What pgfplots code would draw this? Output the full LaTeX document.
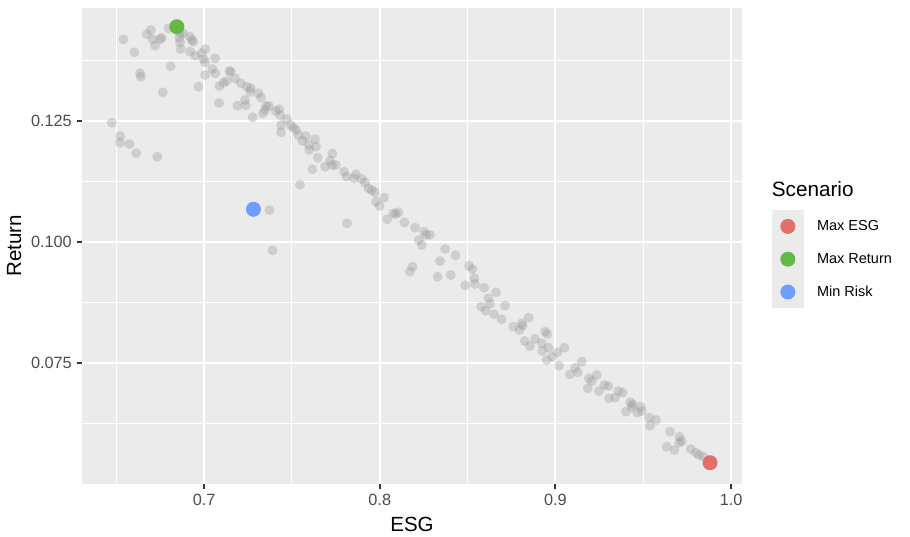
\documentclass[border=0pt]{standalone}
\usepackage{pgfplots}
\pgfplotsset{compat=1.18}
\usepackage{fontspec}
\setmainfont{Liberation Sans}
\definecolor{panel}{HTML}{EBEBEB}
\definecolor{ticklab}{HTML}{4D4D4D}
\definecolor{tickln}{HTML}{333333}
\definecolor{ptgrey}{HTML}{999999}
\definecolor{cred}{HTML}{E1706A}
\definecolor{cgreen}{HTML}{62B946}
\definecolor{cblue}{HTML}{6E9CFF}
\begin{document}
\begin{tikzpicture}
\path[use as bounding box] (-82pt,-53pt) rectangle (828pt,484pt);
\begin{axis}[
  name=ax,
  anchor=south west, at={(0pt,0pt)},
  scale only axis, width=660pt, height=476pt,
  xmin=0.6305, xmax=1.0062, ymin=0.05, ymax=0.14835,
  axis background/.style={fill=panel},
  axis line style={draw=none},
  clip=false,
  tick pos=left, tick align=outside,
  major tick length=5pt, minor tick length=0pt,
  major tick style={draw=tickln, line width=1.9pt},
  xtick={0.7,0.8,0.9,1.0}, ytick={0.075,0.1,0.125},
  minor xtick={0.65,0.75,0.85,0.95}, minor ytick={0.0625,0.0875,0.1125,0.1375},
  grid=both,
  major grid style={white, line width=2pt},
  minor grid style={white, line width=1.1pt},
  /pgf/number format/assume math mode=true,
  xticklabel={\pgfmathprintnumber[fixed,fixed zerofill,precision=1]{\tick}},
  yticklabel={\pgfmathprintnumber[fixed,fixed zerofill,precision=3]{\tick}},
  xticklabel style={font=\fontsize{16.3}{19}\selectfont, text=ticklab, inner sep=0pt, anchor=north},
  yticklabel style={font=\fontsize{16.3}{19}\selectfont, text=ticklab, inner sep=0pt, anchor=east},
  xticklabel shift=5.3pt, yticklabel shift=5pt,
  xlabel={ESG}, ylabel={Return},
  xlabel style={font=\fontsize{20.5}{24}\selectfont, inner sep=0pt, anchor=north, at={(axis description cs:0.5,0)}, yshift=-32.7pt},
  ylabel style={font=\fontsize{20.5}{24}\selectfont, inner sep=0pt, anchor=center, rotate=0, at={(axis description cs:-0.1027,0.5)}},
  legend style={at={(axis description cs:1.045,0.5756)}, anchor=north west, draw=none, fill=none,
    inner sep=0pt, outer sep=0pt, row sep=0pt, column sep=11pt,
    font=\fontsize{14.5}{17}\selectfont, cells={anchor=west, inner sep=0pt}},
  legend cell align=left,
  legend image code/.code={\fill[panel, draw=none] (0pt,-16.4pt) rectangle (32.3pt,16.4pt); \fill[#1, draw=none] (16.15pt,0pt) circle (7.5pt);},
]
\addplot[only marks, forget plot, color=ptgrey, mark=*, mark size=5pt, mark options={fill=ptgrey, draw opacity=0, fill opacity=0.35}] coordinates {
(0.6475,0.12465) (0.6522,0.1219) (0.6522,0.12052) (0.6575,0.12025) (0.6613,0.11833) (0.6734,0.11762)
(0.6541,0.14188) (0.6674,0.14291) (0.6697,0.14380) (0.6708,0.14188) (0.6750,0.14188) (0.6759,0.14221)
(0.6721,0.14056) (0.6603,0.13919) (0.6797,0.14415) (0.6863,0.14312) (0.6882,0.14312) (0.6859,0.14221)
(0.6863,0.14126) (0.6867,0.13988) (0.6920,0.14242) (0.6939,0.14138) (0.6930,0.14174) (0.6920,0.13932)
(0.6949,0.13849) (0.6987,0.13899) (0.7006,0.13988) (0.6996,0.13781) (0.7006,0.13713) (0.7063,0.13795)
(0.6810,0.13630) (0.6636,0.13486) (0.6640,0.13415) (0.6765,0.13093) (0.6968,0.13209) (0.7006,0.13450)
(0.7047,0.13574) (0.7063,0.13486) (0.7087,0.13223) (0.7110,0.13291) (0.7129,0.13326) (0.7144,0.13533)
(0.7152,0.13519) (0.7176,0.13382) (0.7209,0.13279) (0.7243,0.13209) (0.7266,0.13176) (0.7262,0.13105)
(0.7309,0.13072) (0.7324,0.12981) (0.7085,0.12872) (0.7190,0.12816) (0.7233,0.12934) (0.7237,0.12824)
(0.7277,0.12576) (0.7353,0.12810) (0.7368,0.12810) (0.7347,0.12727) (0.7334,0.12659) (0.7408,0.12707)
(0.7427,0.12742) (0.7433,0.12624) (0.7471,0.12541) (0.7493,0.12417) (0.7508,0.12362) (0.7524,0.12314)
(0.7537,0.12211) (0.7438,0.12417) (0.7438,0.12267) (0.7579,0.12190) (0.7559,0.12087) (0.7632,0.12122)
(0.7596,0.12004) (0.7637,0.11969) (0.7599,0.11901) (0.7647,0.11742) (0.7616,0.11502) (0.7689,0.11556)
(0.7546,0.11184) (0.7372,0.10661) (0.7389,0.09828) (0.7730,0.11824) (0.7717,0.11680) (0.7729,0.11591)
(0.7750,0.11591) (0.7797,0.11452) (0.7812,0.11349) (0.7865,0.11399) (0.7854,0.11316) (0.7898,0.11302)
(0.7916,0.11233) (0.7935,0.11110) (0.7954,0.11074) (0.7973,0.11027) (0.8024,0.10915) (0.7979,0.10833)
(0.7998,0.10744) (0.7814,0.10386) (0.8077,0.10593) (0.8091,0.10579) (0.8106,0.10614) (0.8042,0.10469)
(0.8140,0.10407) (0.8201,0.10295) (0.8252,0.10213) (0.8264,0.10145) (0.8286,0.10145) (0.8222,0.10041)
(0.8239,0.09938) (0.8372,0.09855) (0.8431,0.09725) (0.8343,0.09607) (0.8186,0.09490) (0.8172,0.09386)
(0.8330,0.09283) (0.8404,0.09318) (0.8508,0.09510) (0.8527,0.09442) (0.8538,0.09250) (0.8542,0.09132)
(0.8487,0.09105) (0.8594,0.09056) (0.8662,0.08961) (0.8618,0.08837) (0.8628,0.08725) (0.8577,0.08663)
(0.8603,0.08580) (0.8651,0.08506) (0.8713,0.08684) (0.8694,0.08403) (0.8760,0.08250) (0.8795,0.08182)
(0.8808,0.08320) (0.8814,0.08271) (0.8848,0.08436) (0.8825,0.07955) (0.8855,0.07851) (0.8884,0.07996)
(0.8922,0.07907) (0.8941,0.08147) (0.8954,0.08099) (0.8960,0.07816) (0.8925,0.07748) (0.8950,0.07562)
(0.8982,0.07630) (0.9011,0.07721) (0.9051,0.07816) (0.9020,0.07444) (0.9083,0.07267) (0.9112,0.07403)
(0.9127,0.07308) (0.9150,0.07527) (0.9191,0.07184) (0.9207,0.07128) (0.9235,0.07252) (0.9184,0.06977)
(0.9248,0.06921) (0.9278,0.07045) (0.9301,0.07025) (0.9305,0.06771) (0.9339,0.06783) (0.9358,0.06921)
(0.9383,0.06886) (0.9425,0.06688) (0.9440,0.06647) (0.9434,0.06585) (0.9402,0.06494) (0.9466,0.06473)
(0.9485,0.06597) (0.9491,0.06508) (0.9533,0.06370) (0.9573,0.06322) (0.9538,0.06205) (0.9652,0.06081)
(0.9705,0.05977) (0.9719,0.05888) (0.9705,0.05853) (0.9633,0.05771) (0.9677,0.05702) (0.9770,0.05723)
(0.9799,0.05647) (0.9817,0.05599) (0.9842,0.05564)
};
\addplot[only marks, color=cred, mark=*, mark size=7.5pt, mark options={fill=cred, draw opacity=0}, fill=cred] coordinates {(0.9880,0.05440)};
\addlegendentry{Max ESG}
\addplot[only marks, color=cgreen, mark=*, mark size=7.5pt, mark options={fill=cgreen, draw opacity=0}, fill=cgreen] coordinates {(0.6845,0.14448)};
\addlegendentry{Max Return}
\addplot[only marks, color=cblue, mark=*, mark size=7.5pt, mark options={fill=cblue, draw opacity=0}, fill=cblue] coordinates {(0.7281,0.10676)};
\addlegendentry{Min Risk}
\end{axis}
\node[anchor=base west, inner sep=0pt, font=\fontsize{20.7}{24}\selectfont] at (689.7pt,287.3pt) {Scenario};
\end{tikzpicture}
\end{document}
